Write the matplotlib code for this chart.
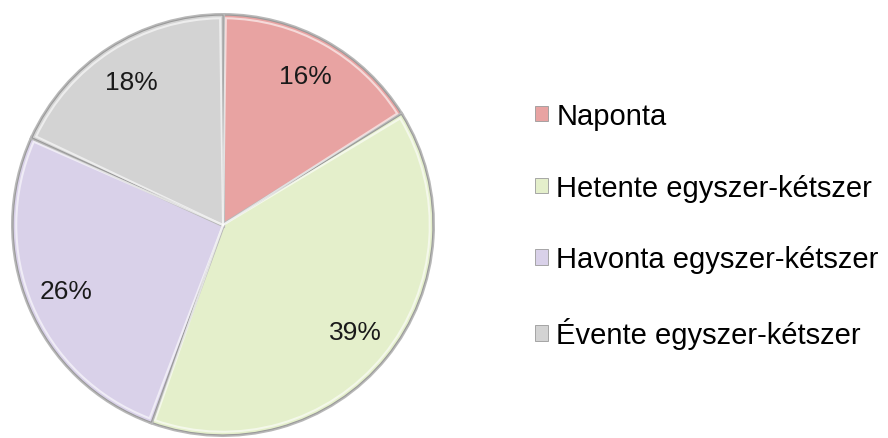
import matplotlib.pyplot as plt
import matplotlib.patheffects as pe
from matplotlib.patches import Wedge

# Válaszok megoszlása
kategoriak = ['Naponta', 'Hetente egyszer-kétszer', 'Havonta egyszer-kétszer', 'Évente egyszer-kétszer']
szazalekok = [16, 39, 26, 18]
szinek = ['#e8a3a2', '#e4efcb', '#d9d1e9', '#d3d3d3']

plt.rcParams['font.family'] = ['Liberation Sans', 'DejaVu Sans']

fig = plt.figure(figsize=(8.88, 4.39), dpi=100)
ax = fig.add_axes([11 / 888, 1 / 439, 424 / 888, 424 / 439])

wedges, texts, autotexts = ax.pie(
    szazalekok, colors=szinek, startangle=90, counterclock=False,
    autopct=lambda p: f'{p:.0f}%', pctdistance=0.81, radius=1.0,
    wedgeprops=dict(edgecolor='#9a9a9a', linewidth=0.8),
    textprops=dict(fontsize=19, color='#1a1a1a'))

# enyhe domború hatás a cikkek szélén
for w in wedges:
    w.set_path_effects([pe.Stroke(linewidth=3, foreground='#b8b8b8'),
                        pe.Normal()])
    ax.add_patch(Wedge(w.center, w.r - 0.015, w.theta1 + 0.8, w.theta2 - 0.8,
                       facecolor='none', edgecolor='white', linewidth=1.5, alpha=0.6))

ax.set_xlim(-1.01, 1.01)
ax.set_ylim(-1.01, 1.01)
ax.set_aspect('equal')
ax.axis('off')

leg = fig.legend(wedges, kategoriak, loc='upper left', bbox_to_anchor=(535 / 888, 1 - 103 / 439),
                 frameon=False, fontsize=21, handlelength=0.45, handleheight=0.45,
                 handletextpad=0.28, labelspacing=1.5, borderpad=0, borderaxespad=0)
for h in leg.legend_handles:
    h.set_path_effects([])
    h.set_linewidth(0.6)

fig.savefig('out.png', dpi=100)
